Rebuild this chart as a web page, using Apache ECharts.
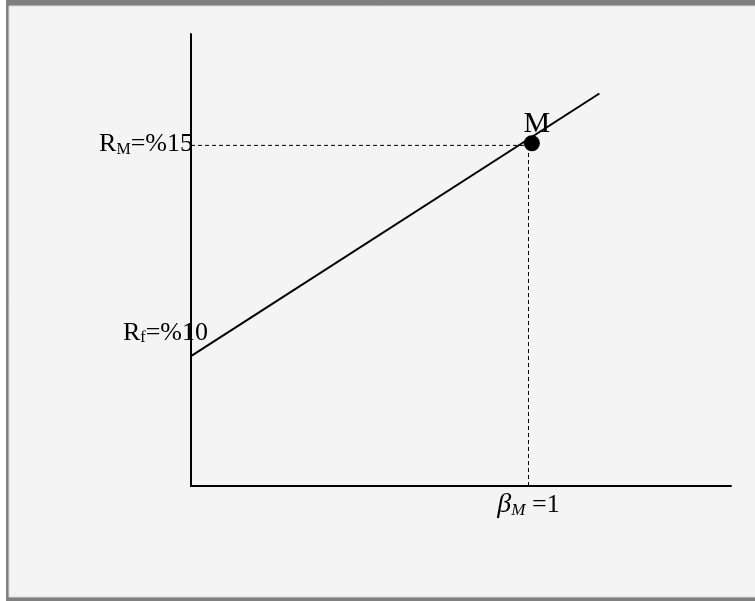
<!DOCTYPE html>
<html>
<head>
<meta charset="utf-8">
<script src="https://cdn.jsdelivr.net/npm/echarts@6/dist/echarts.min.js"></script>
<style>
  html, body { margin: 0; padding: 0; background: #ffffff; }
  #main { width: 755px; height: 601px; }
</style>
</head>
<body>
<div id="main"></div>
<script>
// SML line: risk free return at beta 0, market portfolio M at beta 1
var smlLine = [[0, 10], [1.21, 16.23]];
var marketPoint = [[1.01, 15.05]];
var dashHorizontal = [[0, 15], [1.01, 15]];
var dashVertical = [[1, 6.92], [1, 15]];
var returnValues = [10, 15];
var returnSubs = ['f', 'M'];
var returnTexts = ['=%10', '=%15'];
var betaValue = 1;

var serif = '"Liberation Serif", "Times New Roman", serif';
var chart = echarts.init(document.getElementById('main'));

var rich = {
  r: { fontFamily: serif, fontSize: 26, color: '#000' },
  s: { fontFamily: serif, fontSize: 16, color: '#000', verticalAlign: 'bottom' },
  bi: { fontFamily: serif, fontSize: 28, fontStyle: 'italic', color: '#000' },
  si: { fontFamily: serif, fontSize: 17, fontStyle: 'italic', color: '#000', verticalAlign: 'bottom' },
  n: { fontFamily: serif, fontSize: 26, color: '#000' }
};

var labelOffsets = [[17, -23], [2, -1]];
var returnLabels = returnValues.map(function (v, i) {
  return {
    value: [0, v],
    label: {
      offset: labelOffsets[i],
      formatter: '{r|R}{s|' + returnSubs[i] + '}{r|' + returnTexts[i] + '}'
    }
  };
});

var option = {
  backgroundColor: 'transparent',
  animation: false,
  graphic: [
    { type: 'rect', shape: { x: 6, y: 0, width: 760, height: 601 }, style: { fill: '#808080' }, z: -10 },
    { type: 'rect', shape: { x: 9, y: 6, width: 760, height: 591 }, style: { fill: '#f4f4f4', stroke: '#d8d8d8', lineWidth: 1 }, z: -9 }
  ],
  grid: { left: 191, top: 34, right: 24, bottom: 115 },
  xAxis: {
    type: 'value', min: 0, max: 1.6,
    axisLine: { onZero: false, lineStyle: { color: '#000', width: 2 } },
    axisTick: { show: false }, axisLabel: { show: false }, splitLine: { show: false }
  },
  yAxis: {
    type: 'value', min: 6.92, max: 17.642,
    axisLine: { show: true, onZero: false, lineStyle: { color: '#000', width: 2 } },
    axisTick: { show: false }, axisLabel: { show: false }, splitLine: { show: false }
  },
  series: [
    {
      type: 'line', data: dashHorizontal, symbol: 'none', silent: true,
      lineStyle: { color: '#000', width: 1, type: [4, 3], opacity: 1 }
    },
    {
      type: 'line', data: dashVertical, symbol: 'none', silent: true,
      lineStyle: { color: '#000', width: 1, type: [4, 3], opacity: 1 }
    },
    {
      type: 'line', data: smlLine, symbol: 'none', silent: true,
      lineStyle: { color: '#000', width: 2 }
    },
    {
      type: 'scatter', data: marketPoint, symbolSize: 16, silent: true,
      itemStyle: { color: '#000', opacity: 1 },
      label: {
        show: true, position: 'top', distance: 0, offset: [5, 4],
        formatter: 'M', fontFamily: serif, fontSize: 30, color: '#000'
      }
    },
    {
      type: 'scatter', data: returnLabels, symbolSize: 0, silent: true,
      itemStyle: { opacity: 1 },
      label: { show: true, position: 'left', distance: 0, rich: rich }
    },
    {
      type: 'scatter', data: [[betaValue, 6.92]], symbolSize: 0, silent: true,
      itemStyle: { opacity: 1 },
      label: {
        show: true, position: 'bottom', distance: 5,
        formatter: '{bi|β}{si|M}{n| =' + betaValue + '}', rich: rich
      }
    }
  ]
};
chart.setOption(option);
</script>
</body>
</html>
